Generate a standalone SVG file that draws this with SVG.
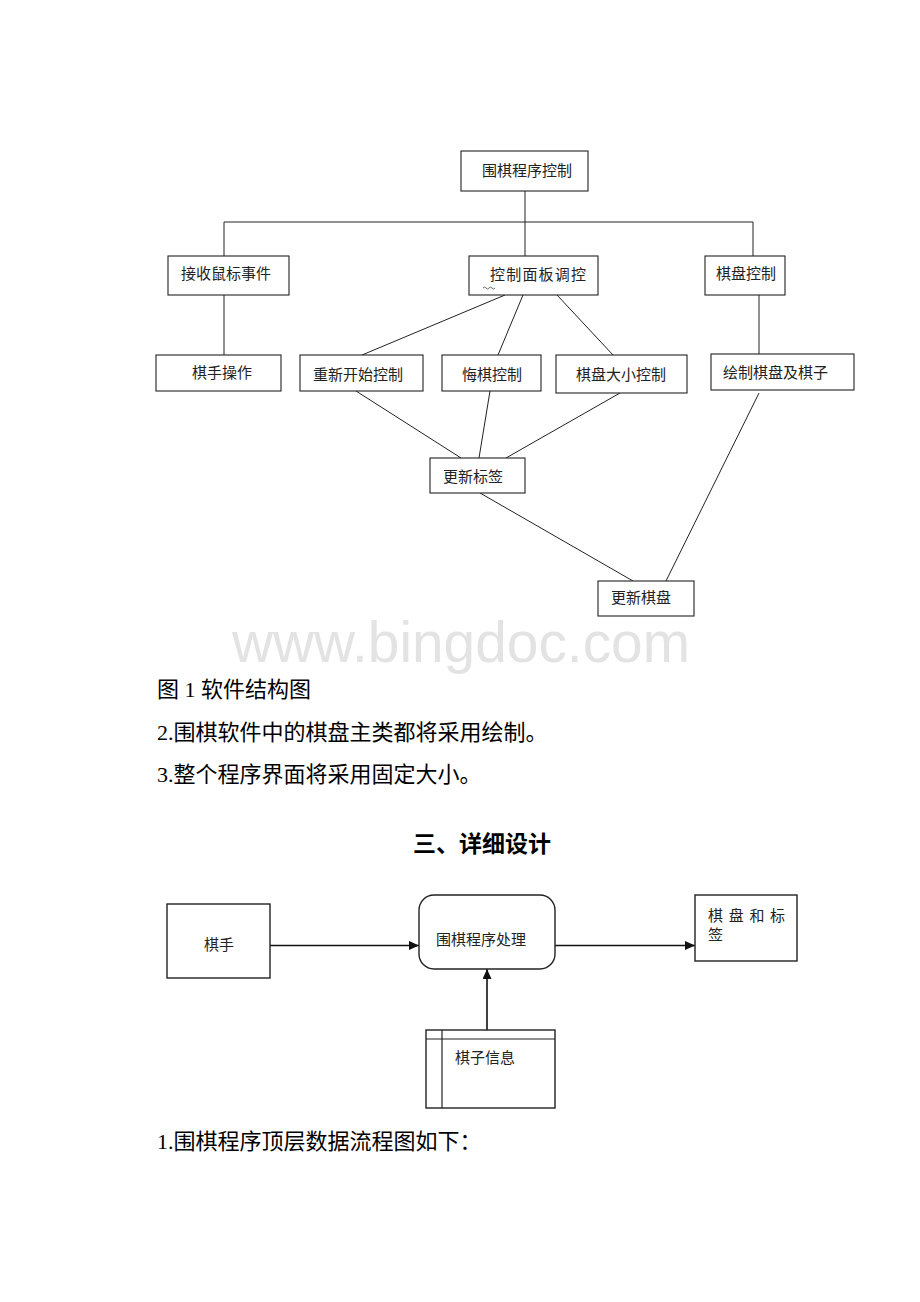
<svg xmlns="http://www.w3.org/2000/svg" width="920" height="1302" viewBox="0 0 920 1302">
<defs>
<style>
.box{fill:#fff;stroke:#222;stroke-width:1.1}
.box2{fill:#fff;stroke:#222;stroke-width:1.4}
.lbl{font-family:"Noto Sans CJK SC","Liberation Sans",sans-serif;font-size:15px;fill:#222}
.para{font-family:"Liberation Serif","Noto Sans CJK SC",serif;font-size:22px;fill:#000}
.conn line,.conn polyline{stroke:#222;stroke-width:1;fill:none}
.arr line{stroke:#111;stroke-width:1.6;fill:none}
</style>
<marker id="ah" markerUnits="userSpaceOnUse" markerWidth="10" markerHeight="9" refX="10" refY="4.5" orient="auto">
<path d="M0,0 L10,4.5 L0,9 z" fill="#111"/>
</marker>
</defs>
<rect width="920" height="1302" fill="#fff"/>

<text x="232" y="662" font-family="Liberation Sans, Arial, sans-serif" font-size="58" fill="#e3e3e3" textLength="458" lengthAdjust="spacingAndGlyphs">www.bingdoc.com</text>

<g class="conn" id="connectors1">
<line x1="525" y1="191" x2="525" y2="222"/>
<line x1="224" y1="222" x2="753" y2="222"/>
<line x1="224" y1="222" x2="224" y2="256"/>
<line x1="525" y1="222" x2="525" y2="256"/>
<line x1="753" y1="222" x2="753" y2="256"/>
<line x1="224" y1="295" x2="224" y2="355"/>
<line x1="759" y1="295" x2="759" y2="354"/>
<line x1="505" y1="295" x2="362" y2="355"/>
<line x1="523" y1="295" x2="498" y2="355"/>
<line x1="557" y1="295" x2="613" y2="355"/>
<line x1="356" y1="391" x2="461" y2="458"/>
<line x1="490" y1="391" x2="479" y2="458"/>
<line x1="620" y1="393" x2="506" y2="458"/>
<line x1="480" y1="493" x2="633" y2="581"/>
<line x1="759" y1="393" x2="666" y2="581"/>
</g>

<g id="n-weiqi-control"><rect class="box" x="461" y="151" width="127" height="40"/><text class="lbl" x="482" y="176">围棋程序控制</text></g>
<g id="n-mouse"><rect class="box" x="168" y="256" width="121" height="39"/><text class="lbl" x="181" y="279">接收鼠标事件</text></g>
<g id="n-panel"><rect class="box" x="469" y="256" width="129" height="39"/><text class="lbl" x="490" y="280" letter-spacing="1.2">控制面板调控</text><path d="M483,288 q1.5,-2 3,0 t3,0 t3,0 t3,0" fill="none" stroke="#444" stroke-width="0.8"/></g>
<g id="n-board-control"><rect class="box" x="705" y="256" width="80" height="39"/><text class="lbl" x="716" y="279">棋盘控制</text></g>
<g id="n-player-op"><rect class="box" x="156" y="355" width="125" height="36"/><text class="lbl" x="192" y="378">棋手操作</text></g>
<g id="n-restart"><rect class="box" x="300" y="355" width="123" height="36"/><text class="lbl" x="313" y="380">重新开始控制</text></g>
<g id="n-undo"><rect class="box" x="442" y="355" width="99" height="36"/><text class="lbl" x="462" y="380">悔棋控制</text></g>
<g id="n-size"><rect class="box" x="556" y="355" width="131" height="38"/><text class="lbl" x="576" y="380">棋盘大小控制</text></g>
<g id="n-draw"><rect class="box" x="711" y="354" width="143" height="36"/><text class="lbl" x="723" y="378">绘制棋盘及棋子</text></g>
<g id="n-update-label"><rect class="box" x="430" y="458" width="95" height="35"/><text class="lbl" x="443" y="482">更新标签</text></g>
<g id="n-update-board"><rect class="box" x="598" y="581" width="96" height="35"/><text class="lbl" x="611" y="603">更新棋盘</text></g>

<g id="paragraphs">
<text class="para" x="157" y="697">图 1 软件结构图</text>
<text class="para" x="157" y="740">2.围棋软件中的棋盘主类都将采用绘制。</text>
<text class="para" x="157" y="782">3.整个程序界面将采用固定大小。</text>
<text x="482" y="852" text-anchor="middle" font-family="Noto Sans CJK SC, sans-serif" font-weight="bold" font-size="23" fill="#000">三、详细设计</text>
<text class="para" x="157" y="1149">1.围棋程序顶层数据流程图如下：</text>
</g>

<g class="arr" id="connectors2">
<line x1="270" y1="945.5" x2="419" y2="945.5" marker-end="url(#ah)"/>
<line x1="555" y1="945.5" x2="695" y2="945.5" marker-end="url(#ah)"/>
<line x1="487" y1="1030" x2="487" y2="969" marker-end="url(#ah)"/>
</g>

<g id="n-player"><rect class="box2" x="167" y="904" width="103" height="74"/><text class="lbl" x="204" y="950">棋手</text></g>
<g id="n-process"><rect class="box2" x="419" y="895" width="136" height="74" rx="15" ry="15"/><text class="lbl" x="436" y="945" font-size="15.8">围棋程序处理</text></g>
<g id="n-output"><rect class="box2" x="695" y="895" width="102" height="66"/><text class="lbl" x="708" y="921" letter-spacing="5.7">棋盘和标</text><text class="lbl" x="708" y="940">签</text></g>
<g id="n-store"><rect class="box2" x="426" y="1030" width="129" height="78"/><line x1="426" y1="1039" x2="555" y2="1039" stroke="#222" stroke-width="1.2"/><line x1="442" y1="1030" x2="442" y2="1108" stroke="#222" stroke-width="1.2"/><text class="lbl" x="455" y="1063">棋子信息</text></g>
</svg>
